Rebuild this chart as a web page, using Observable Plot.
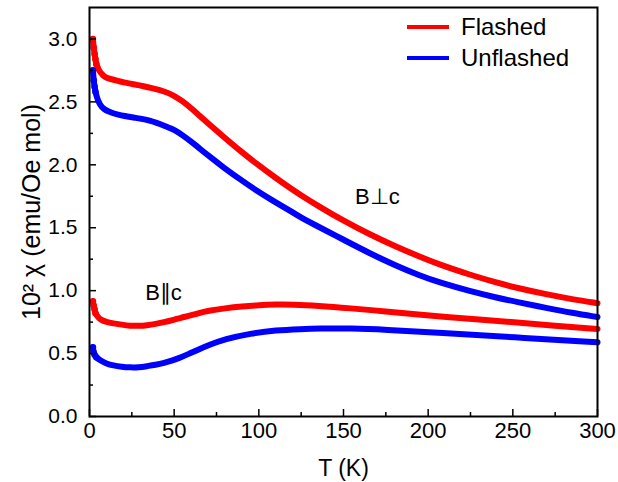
<!DOCTYPE html>
<html><head><meta charset="utf-8">
<script src="https://cdn.jsdelivr.net/npm/d3@7"></script>
<script src="https://cdn.jsdelivr.net/npm/@observablehq/plot@0.6"></script>
<style>
body{margin:0;background:#fff;}
#wrap{position:relative;width:618px;height:482px;font-family:"Liberation Sans",Arial,sans-serif;}
.leg{position:absolute;left:407px;display:flex;align-items:center;font-size:24px;line-height:24px;color:#000;}
.leg span.sw{display:inline-block;width:42px;height:3.5px;margin-right:12px;}
</style></head><body><div id="wrap"></div>
<script>
// B ⊥ c, flashed
const T_perp_fl = [2, 2.5, 3, 3.5, 4, 5, 6, 8, 10, 13, 16, 20, 26, 32, 38, 44, 50, 55, 60, 65, 70, 79, 90, 98, 110, 119, 125, 136, 150, 165, 180, 195, 207, 225, 240, 253, 270, 285, 300];
const chi_perp_fl = [3.00, 2.93, 2.88, 2.84, 2.80, 2.77, 2.74, 2.71, 2.69, 2.68, 2.67, 2.655, 2.64, 2.625, 2.605, 2.585, 2.55, 2.505, 2.45, 2.39, 2.33, 2.225, 2.10, 2.015, 1.895, 1.81, 1.757, 1.665, 1.555, 1.45, 1.355, 1.27, 1.205, 1.125, 1.065, 1.02, 0.97, 0.932, 0.90];
// B ⊥ c, unflashed
const T_perp_un = [2, 2.5, 3, 3.5, 4.5, 6, 8.5, 12, 16, 26, 36, 46, 50, 55, 60, 65, 70, 79, 90, 98, 110, 119, 125, 132, 150, 165, 180, 195, 207, 225, 240, 253, 270, 285, 300];
const chi_perp_un = [2.75, 2.67, 2.62, 2.58, 2.53, 2.48, 2.44, 2.42, 2.40, 2.375, 2.355, 2.30, 2.28, 2.235, 2.185, 2.13, 2.075, 1.98, 1.875, 1.80, 1.70, 1.63, 1.58, 1.53, 1.405, 1.30, 1.205, 1.12, 1.063, 0.995, 0.946, 0.908, 0.862, 0.823, 0.79];
// B ∥ c, flashed
const T_par_fl = [2, 2.5, 3, 3.5, 5, 6.5, 10, 14, 19, 24, 29, 34, 39, 44, 49, 54, 59, 64, 70, 80, 90, 100, 110, 120, 135, 154, 175, 195, 210, 230, 250, 275, 300];
const chi_par_fl = [0.915, 0.88, 0.85, 0.82, 0.79, 0.77, 0.75, 0.74, 0.73, 0.72, 0.72, 0.725, 0.735, 0.75, 0.765, 0.785, 0.80, 0.82, 0.84, 0.86, 0.875, 0.885, 0.89, 0.89, 0.88, 0.86, 0.835, 0.81, 0.79, 0.77, 0.75, 0.72, 0.695];
// B ∥ c, unflashed
const T_par_un = [2, 2.4, 3, 4, 6.5, 10, 14, 19, 24, 29, 34, 39, 44, 49, 54, 59, 64, 70, 80, 95, 110, 125, 135, 155, 174, 207, 250, 300];
const chi_par_un = [0.55, 0.51, 0.49, 0.47, 0.445, 0.42, 0.405, 0.395, 0.39, 0.39, 0.40, 0.41, 0.425, 0.445, 0.47, 0.50, 0.53, 0.565, 0.615, 0.66, 0.685, 0.695, 0.70, 0.70, 0.69, 0.665, 0.63, 0.59];

const seriesNames = ["Flashed", "Unflashed"];
const seriesColors = ["#ff0000", "#0000ff"];
const xTicks = [0, 50, 100, 150, 200, 250, 300];
const xMinor = [25, 75, 125, 175, 225, 275];
const yTicks = [0, 0.5, 1.0, 1.5, 2.0, 2.5, 3.0];
const yMinor = [0.25, 0.75, 1.25, 1.75, 2.25, 2.75];
const xTitle = "T (K)";
const yTitle = "10\u00b2 \u03c7 (emu/Oe mol)";
const annotations = [{T: 170, chi: 1.745, text: "B\u22a5c"}, {T: 43.7, chi: 0.98, text: "B\u2225c"}];

const curves = [
  {T: T_perp_fl, chi: chi_perp_fl, color: seriesColors[0]},
  {T: T_perp_un, chi: chi_perp_un, color: seriesColors[1]},
  {T: T_par_fl, chi: chi_par_fl, color: seriesColors[0]},
  {T: T_par_un, chi: chi_par_un, color: seriesColors[1]}
];

const marks = [];
for (const c of curves) {
  const rows = c.T.map((t, i) => ({T: t, chi: c.chi[i]}));
  marks.push(Plot.line(rows, {x: "T", y: "chi", stroke: c.color, strokeWidth: 6, curve: "basis"}));
  marks.push(Plot.dot(rows.filter(r => r.T <= 4), {x: "T", y: "chi", fill: c.color, r: 3.3}));
}
marks.push(Plot.text(annotations, {x: "T", y: "chi", text: "text", fontSize: 22, fill: "#000"}));
marks.push(Plot.frame({stroke: "#000", strokeWidth: 2}));
marks.push(Plot.axisX({ticks: xTicks, tickSize: -7, tickFormat: () => "", label: null, strokeWidth: 1.5}));
marks.push(Plot.axisX({ticks: xMinor, tickSize: -4, tickFormat: () => "", label: null, strokeWidth: 1.5}));
marks.push(Plot.axisX({ticks: xTicks, tickSize: 0, tickPadding: 6, fontSize: 22, label: null}));
marks.push(Plot.axisY({ticks: yTicks, tickSize: -7, tickFormat: () => "", label: null, strokeWidth: 1.5}));
marks.push(Plot.axisY({ticks: yMinor, tickSize: -4, tickFormat: () => "", label: null, strokeWidth: 1.5}));
marks.push(Plot.axisY({ticks: yTicks, tickSize: 0, tickPadding: 12, fontSize: 21, tickFormat: d => d.toFixed(1), label: null}));
marks.push(Plot.text([xTitle], {text: d => d, frameAnchor: "bottom", dy: 52, fontSize: 23, lineAnchor: "middle"}));
marks.push(Plot.text([yTitle], {text: d => d, frameAnchor: "left", textAnchor: "middle", dx: -58, rotate: -90, fontSize: 25, lineAnchor: "middle"}));

const plot = Plot.plot({
  width: 618, height: 482,
  marginLeft: 89, marginRight: 21, marginTop: 7, marginBottom: 66,
  style: {fontFamily: "Liberation Sans, Arial, sans-serif", fontSize: "20px", color: "#000", background: "#fff", overflow: "visible"},
  x: {domain: [0, 300]},
  y: {domain: [0, 3.25]},
  marks
});
const wrap = document.getElementById("wrap");
wrap.appendChild(plot);
seriesNames.forEach((name, i) => {
  const d = document.createElement("div");
  d.className = "leg";
  d.style.top = (15 + i * 31) + "px";
  d.innerHTML = `<span class="sw" style="background:${seriesColors[i]}"></span>${name}`;
  wrap.appendChild(d);
});
</script>
</body></html>
